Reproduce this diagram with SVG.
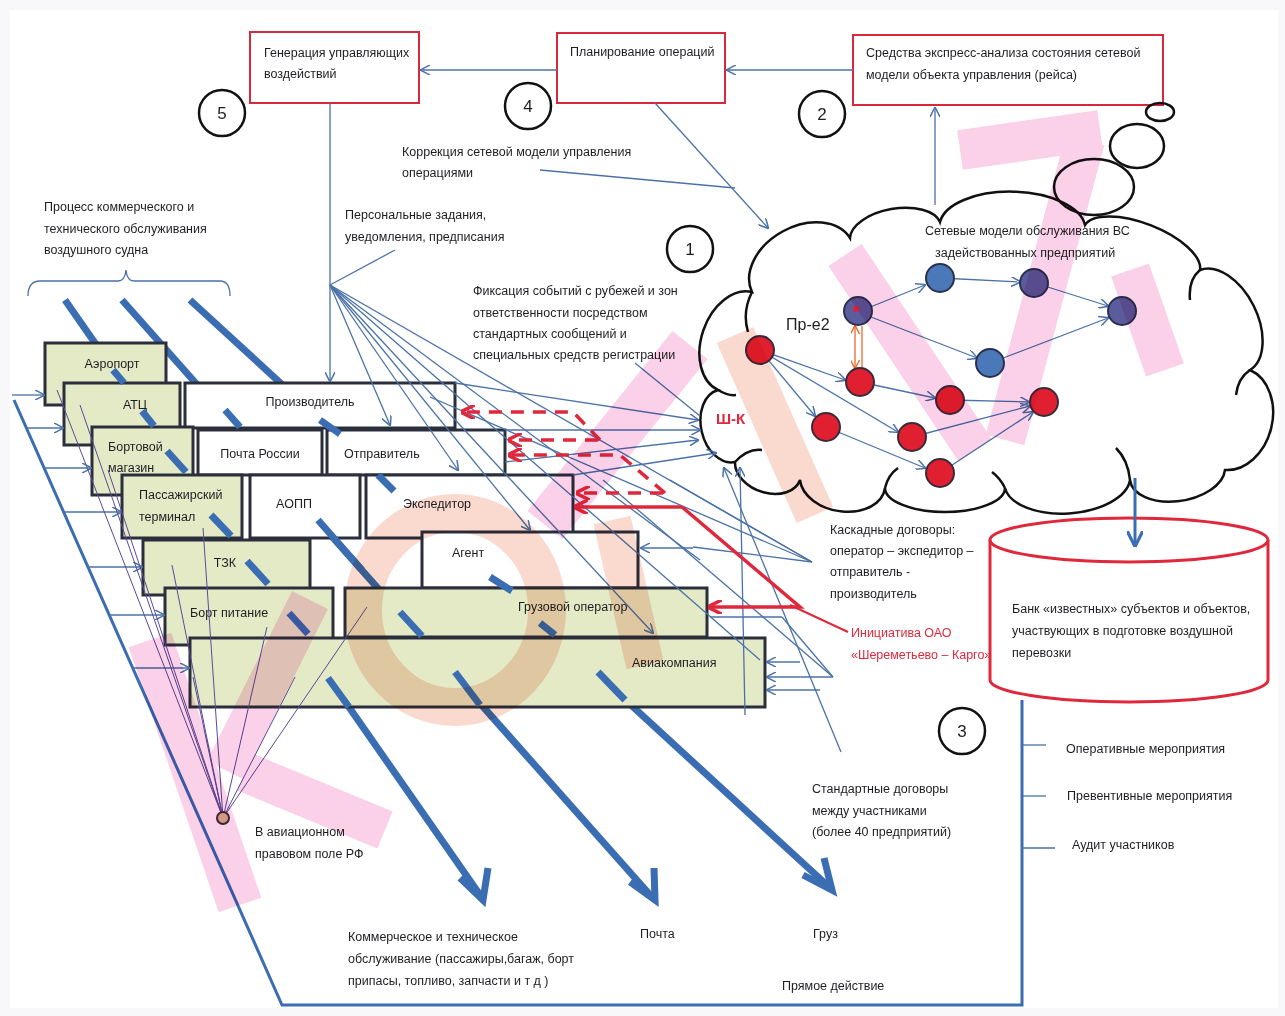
<svg xmlns="http://www.w3.org/2000/svg" width="1285" height="1016" viewBox="0 0 1285 1016">
<defs>
<style>
text{font-family:"Liberation Sans Narrow","Liberation Sans",Arial,sans-serif;font-size:12.5px;fill:#1e1e22}
.t{stroke:#4a72a8;stroke-width:1.3;fill:none}
.tk{stroke:#3b6db2;stroke-width:7;fill:none;stroke-linecap:butt}
.box{stroke:#2b2f3c;stroke-width:3}
.g{fill:#e4eac6}
.w{fill:#ffffff}
.rb{fill:#ffffff;stroke:#d8283c;stroke-width:2}
.num{fill:#fff;stroke:#111;stroke-width:2.5}
.nt{font-size:17px;text-anchor:middle}
.bl{text-anchor:middle}
.red{fill:#e0283c}
.rd{stroke:#e0283c;stroke-width:3.5;fill:none;stroke-dasharray:13 9}
.rs{stroke:#e0283c;stroke-width:3.5;fill:none}
.nr{fill:#e02030;stroke:#3a2a3a;stroke-width:2}
.nb{fill:#4a78b8;stroke:#2a3050;stroke-width:2}
.np{fill:#5a5c9c;stroke:#2a3050;stroke-width:2}
.wp{stroke:#f070b8;fill:none;stroke-linecap:butt}
.ws{stroke:#f08a6a;fill:none;stroke-linecap:butt}
</style>
<marker id="a" viewBox="0 0 10 10" refX="9" refY="5" markerWidth="10" markerHeight="10" markerUnits="userSpaceOnUse" orient="auto"><path d="M0,0 L10,5 L0,10" fill="none" stroke="#4a72a8" stroke-width="1.5"/></marker>
<marker id="ab" viewBox="0 0 10 10" refX="9" refY="5" markerWidth="16" markerHeight="16" markerUnits="userSpaceOnUse" orient="auto"><path d="M0,0 L10,5 L0,10" fill="none" stroke="#3b6db2" stroke-width="2"/></marker>
<marker id="ar" viewBox="0 0 10 10" refX="9" refY="5" markerWidth="14" markerHeight="14" markerUnits="userSpaceOnUse" orient="auto"><path d="M0,0 L10,5 L0,10" fill="none" stroke="#e0283c" stroke-width="2.5"/></marker>
<marker id="ao" viewBox="0 0 10 10" refX="9" refY="5" markerWidth="9" markerHeight="9" markerUnits="userSpaceOnUse" orient="auto-start-reverse"><path d="M0,0 L10,5 L0,10" fill="none" stroke="#e86a30" stroke-width="1.5"/></marker>
</defs>
<rect x="0" y="0" width="1285" height="1016" fill="#f8f8fa"/>
<rect x="10" y="10" width="1268" height="998" fill="#ffffff"/>

<!-- thick process lines (background) -->
<g id="process-lines">
<line class="tk" x1="65" y1="300" x2="480" y2="895"/>
<line class="tk" x1="122" y1="300" x2="651" y2="896"/>
<line class="tk" x1="190" y1="300" x2="828" y2="886"/>
</g>

<!-- frame -->
<g id="frame">
<polyline class="t" points="14,400 282,1005 1022,1005 1022,700" style="stroke-width:3;stroke:#3b6db2"/>
<line class="t" x1="1022" y1="745" x2="1046" y2="745"/>
<line class="t" x1="1022" y1="796" x2="1046" y2="796"/>
<line class="t" x1="1022" y1="848" x2="1055" y2="848"/>
<path class="t" d="M28,296 Q28,281 40,281 L118,281 Q125,281 126,270 Q127,281 134,281 L220,281 Q230,281 230,296"/>
</g>

<!-- boxes -->
<g id="n-aeroport"><rect class="box g" x="45" y="343" width="121" height="62"/><text class="bl" x="112" y="368">Аэропорт</text></g>
<g id="n-atc"><rect class="box g" x="64" y="383" width="116" height="62"/><text class="bl" x="135" y="409">АТЦ</text></g>
<g id="n-proizv"><rect class="box w" x="185" y="383" width="270" height="45"/><text class="bl" x="310" y="406">Производитель</text></g>
<g id="n-bort-mag"><rect class="box g" x="92" y="427" width="101" height="68"/><text x="108" y="451">Бортовой</text><text x="108" y="472">магазин</text></g>
<g id="n-pochta"><rect class="box w" x="198" y="430" width="124" height="45"/><text class="bl" x="260" y="458">Почта России</text></g>
<g id="n-otpr"><rect class="box w" x="327" y="430" width="178" height="45"/><text x="344" y="458">Отправитель</text></g>
<g id="n-pass"><rect class="box g" x="122" y="475" width="120" height="63"/><text x="139" y="499">Пассажирский</text><text x="139" y="521">терминал</text></g>
<g id="n-aopp"><rect class="box w" x="250" y="475" width="110" height="63"/><text class="bl" x="294" y="508">АОПП</text></g>
<g id="n-exped"><rect class="box w" x="366" y="475" width="207" height="63"/><text x="403" y="508">Экспедитор</text></g>
<g id="n-agent"><rect class="box w" x="422" y="532" width="216" height="56"/><text x="452" y="557">Агент</text></g>
<g id="n-tzk"><rect class="box g" x="143" y="540" width="167" height="55"/><text class="bl" x="225" y="567">ТЗК</text></g>
<g id="n-bortpit"><rect class="box g" x="165" y="588" width="168" height="57"/><text x="190" y="617">Борт питание</text></g>
<g id="n-gruz"><rect class="box g" x="345" y="588" width="362" height="49"/><text x="518" y="611">Грузовой оператор</text></g>
<g id="n-avia"><rect class="box g" x="190" y="638" width="575" height="69"/><text x="632" y="667">Авиакомпания</text></g>

<!-- thick segments visible through boxes -->
<g id="process-segments">
<line class="tk" x1="113" y1="370" x2="124" y2="383"/>
<line class="tk" x1="142" y1="411" x2="154" y2="426"/>
<line class="tk" x1="167" y1="451" x2="186" y2="472"/>
<line class="tk" x1="211" y1="515" x2="231" y2="536"/>
<line class="tk" x1="247" y1="561" x2="268" y2="584"/>
<line class="tk" x1="289" y1="613" x2="308" y2="634"/>
<line class="tk" x1="328" y1="678" x2="349" y2="707"/>
<line class="tk" x1="225" y1="410" x2="240" y2="427"/>
<line class="tk" x1="320" y1="420" x2="340" y2="434"/>
<line class="tk" x1="318" y1="520" x2="362" y2="570"/>
<line class="tk" x1="378" y1="475" x2="394" y2="491"/>
<line class="tk" x1="400" y1="612" x2="422" y2="636"/>
<line class="tk" x1="490" y1="577" x2="512" y2="591"/>
<line class="tk" x1="540" y1="623" x2="555" y2="635"/>
<line class="tk" x1="455" y1="672" x2="480" y2="705"/>
<line class="tk" x1="598" y1="672" x2="625" y2="700"/>
</g>

<!-- bottom big arrowheads -->
<g id="process-heads" fill="none" stroke="#3b6db2" stroke-width="7" stroke-linejoin="miter">
<polyline points="460,878 483,900 488,868"/>
<polyline points="630,882 655,900 654,868"/>
<polyline points="803,875 832,890 824,858"/>
</g>

<!-- top boxes -->
<g id="n-gen"><rect class="rb" x="250" y="32" width="169" height="71"/><text x="264" y="57">Генерация  управляющих</text><text x="264" y="78">воздействий</text></g>
<g id="n-plan"><rect class="rb" x="557" y="33" width="168" height="70"/><text x="570" y="56">Планирование операций</text></g>
<g id="n-sredstva"><rect class="rb" x="853" y="35" width="310" height="70"/><text x="866" y="57">Средства  экспресс-анализа  состояния  сетевой</text><text x="866" y="79">модели  объекта управления  (рейса)</text></g>

<!-- cloud -->
<g id="n-cloud">
<ellipse cx="1160" cy="112" rx="14" ry="9" fill="none" stroke="#111" stroke-width="2.5"/>
<ellipse cx="1137" cy="146" rx="27" ry="22" fill="none" stroke="#111" stroke-width="2.5"/>
<path d="M718,390 A52,36 -70.9 0 1 752,292 A56,40 -28.9 0 1 850,238 A46,24 -10 0 1 940,222 A73,36 1.2 0 1 1085,225 A62,26 21.4 0 1 1200,270 A56,34 63.4 0 1 1250,370 A52,40 104 0 1 1225,470 A48,28 171 0 1 1130,480 A63,33 176 0 1 1005,488 A60,24 180 0 1 885,488 A43,30 -170 0 1 800,480 A34,24 -160 0 1 735,462 A37,26 -103 0 1 718,390 Z" fill="#fff" stroke="#111" stroke-width="2.5"/>
<ellipse cx="1094" cy="187" rx="40" ry="28" fill="none" stroke="#111" stroke-width="2.5"/>
<path d="M752,292 Q742,312 748,332 M1200,270 Q1188,280 1190,300 M1250,370 Q1238,378 1236,395 M1130,480 Q1128,460 1116,448 M1005,488 Q1000,478 992,472 M885,488 Q888,475 898,468 M735,462 Q748,448 762,450 M718,390 Q728,396 736,395" fill="none" stroke="#111" stroke-width="2.5"/>
<text x="925" y="235">Сетевые модели обслуживания ВС</text>
<text x="935" y="257">задействованных предприятий</text>
<text x="786" y="330" style="font-size:16px">Пр-е2</text>
<text x="716" y="424" style="font-size:15px;font-weight:bold;fill:#e0283c">Ш-К</text>
<g class="t">
<line x1="760" y1="350" x2="845" y2="380" marker-end="url(#a)"/>
<line x1="760" y1="350" x2="815" y2="416" marker-end="url(#a)"/>
<line x1="760" y1="350" x2="898" y2="432" marker-end="url(#a)"/>
<line x1="858" y1="312" x2="925" y2="285" marker-end="url(#a)"/>
<line x1="858" y1="312" x2="977" y2="358" marker-end="url(#a)"/>
<line x1="860" y1="382" x2="935" y2="398" marker-end="url(#a)"/>
<line x1="826" y1="427" x2="925" y2="468" marker-end="url(#a)"/>
<line x1="950" y1="400" x2="1029" y2="402" marker-end="url(#a)"/>
<line x1="912" y1="437" x2="1030" y2="406" marker-end="url(#a)"/>
<line x1="940" y1="473" x2="1033" y2="412" marker-end="url(#a)"/>
<line x1="940" y1="278" x2="1020" y2="282" marker-end="url(#a)"/>
<line x1="1035" y1="283" x2="1108" y2="306" marker-end="url(#a)"/>
<line x1="990" y1="363" x2="1108" y2="318" marker-end="url(#a)"/>
</g>
<line x1="855" y1="326" x2="855" y2="368" stroke="#e86a30" stroke-width="1.3" marker-end="url(#ao)" marker-start="url(#ao)"/>
<line x1="862" y1="326" x2="862" y2="368" stroke="#e86a30" stroke-width="1.3"/>
<circle class="nr" cx="760" cy="350" r="14"/>
<circle class="np" cx="858" cy="311" r="14"/>
<circle cx="856" cy="309" r="3" fill="#e02030"/>
<circle class="nr" cx="860" cy="382" r="14"/>
<circle class="nr" cx="826" cy="427" r="14"/>
<circle class="nr" cx="950" cy="400" r="14"/>
<circle class="nr" cx="912" cy="437" r="14"/>
<circle class="nr" cx="940" cy="473" r="14"/>
<circle class="nr" cx="1044" cy="402" r="14"/>
<circle class="nb" cx="940" cy="278" r="14"/>
<circle class="np" cx="1034" cy="283" r="14"/>
<circle class="np" cx="1122" cy="311" r="14"/>
<circle class="nb" cx="990" cy="363" r="14"/>
</g>

<!-- cylinder -->
<g id="n-bank">
<path d="M990,540 L990,680 A139,22 0 0 0 1268,680 L1268,540" fill="#fff" stroke="#e0283c" stroke-width="3"/>
<ellipse cx="1129" cy="540" rx="139" ry="22" fill="#fff" stroke="#e0283c" stroke-width="3"/>
<text x="1012" y="613">Банк  «известных»  субъектов и объектов,</text>
<text x="1012" y="635">участвующих в подготовке воздушной</text>
<text x="1012" y="657">перевозки</text>
</g>

<!-- numbered circles -->
<g id="n-num5"><circle class="num" cx="222" cy="113" r="23"/><text class="nt" x="222" y="119">5</text></g>
<g id="n-num4"><circle class="num" cx="528" cy="106" r="23"/><text class="nt" x="528" y="112">4</text></g>
<g id="n-num2"><circle class="num" cx="822" cy="114" r="23"/><text class="nt" x="822" y="120">2</text></g>
<g id="n-num1"><circle class="num" cx="690" cy="249" r="23"/><text class="nt" x="690" y="255">1</text></g>
<g id="n-num3"><circle class="num" cx="962" cy="731" r="23"/><text class="nt" x="962" y="737">3</text></g>

<!-- connectors -->
<g id="connectors">
<g class="t">
<line x1="557" y1="70" x2="421" y2="70" marker-end="url(#a)"/>
<line x1="853" y1="70" x2="727" y2="70" marker-end="url(#a)"/>
<line x1="935" y1="205" x2="935" y2="108" marker-end="url(#a)"/>
<line x1="655" y1="103" x2="768" y2="228" marker-end="url(#a)"/>
<line x1="540" y1="170" x2="735" y2="188"/>
<line x1="330" y1="103" x2="330" y2="381" marker-end="url(#a)"/>
<line x1="330" y1="285" x2="395" y2="250"/>
<line x1="330" y1="285" x2="390" y2="425" marker-end="url(#a)"/>
<line x1="330" y1="285" x2="458" y2="470" marker-end="url(#a)"/>
<line x1="330" y1="285" x2="530" y2="530" marker-end="url(#a)"/>
<line x1="330" y1="285" x2="653" y2="633" marker-end="url(#a)"/>
<line x1="330" y1="285" x2="760" y2="660"/>
<line x1="330" y1="285" x2="812" y2="562"/>
<line x1="330" y1="285" x2="700" y2="560"/>
<line x1="455" y1="383" x2="698" y2="420" marker-end="url(#a)"/>
<line x1="505" y1="430" x2="700" y2="430" marker-end="url(#a)"/>
<line x1="505" y1="462" x2="698" y2="440" marker-end="url(#a)"/>
<line x1="573" y1="475" x2="716" y2="453" marker-end="url(#a)"/>
<line x1="745" y1="715" x2="740" y2="468" marker-end="url(#a)"/>
<line x1="841" y1="752" x2="724" y2="468" marker-end="url(#a)"/>
<line x1="635" y1="363" x2="700" y2="416"/>
<line x1="812" y1="562" x2="430" y2="397"/>
<line x1="812" y1="562" x2="670" y2="480"/>
<line x1="812" y1="562" x2="693" y2="547"/>
<line x1="693" y1="548" x2="641" y2="548" marker-end="url(#a)"/>
<line x1="833" y1="677" x2="603" y2="480"/>
<line x1="833" y1="677" x2="782" y2="617"/>
<line x1="782" y1="617" x2="710" y2="617"/>
<line x1="800" y1="662" x2="767" y2="662" marker-end="url(#a)"/>
<line x1="833" y1="677" x2="767" y2="677" marker-end="url(#a)"/>
<line x1="820" y1="690" x2="767" y2="690" marker-end="url(#a)"/>
<line x1="12" y1="395" x2="44" y2="395" marker-end="url(#a)"/>
<line x1="26" y1="428" x2="63" y2="428" marker-end="url(#a)"/>
<line x1="44" y1="468" x2="91" y2="468" marker-end="url(#a)"/>
<line x1="64" y1="512" x2="121" y2="512" marker-end="url(#a)"/>
<line x1="88" y1="567" x2="142" y2="567" marker-end="url(#a)"/>
<line x1="109" y1="615" x2="164" y2="615" marker-end="url(#a)"/>
<line x1="133" y1="668" x2="189" y2="668" marker-end="url(#a)"/>
</g>
<g stroke="#5a4a9a" stroke-width="1" fill="none">
<line x1="223" y1="818" x2="57" y2="390"/>
<line x1="223" y1="818" x2="80" y2="405"/>
<line x1="223" y1="818" x2="108" y2="470"/>
<line x1="223" y1="818" x2="172" y2="565"/>
<line x1="223" y1="818" x2="203" y2="528"/>
<line x1="223" y1="818" x2="193" y2="677"/>
<line x1="223" y1="818" x2="267" y2="627"/>
<line x1="223" y1="818" x2="295" y2="677"/>
<line x1="223" y1="818" x2="367" y2="607"/>
</g>
<circle cx="223" cy="818" r="6" fill="#d8b890" stroke="#3a2a3a" stroke-width="2"/>
<line class="t" x1="1135" y1="478" x2="1135" y2="545" style="stroke-width:3;stroke:#3b6db2" marker-end="url(#ab)"/>
<polyline class="rd" points="600,440 573,412 462,412" marker-end="url(#ar)"/>
<line class="rd" x1="598" y1="440" x2="509" y2="440" marker-end="url(#ar)"/>
<polyline class="rd" points="665,493 620,455 509,455" marker-end="url(#ar)"/>
<line class="rd" x1="663" y1="493" x2="577" y2="493" marker-end="url(#ar)"/>
<polyline class="rs" points="682,507 575,507" marker-end="url(#ar)"/>
<polyline class="rs" points="682,507 800,607 709,607" marker-end="url(#ar)"/>
<line x1="790" y1="605" x2="848" y2="632" stroke="#e0283c" stroke-width="2"/>
</g>

<!-- labels -->
<g id="labels">
<text x="402" y="156">Коррекция сетевой модели  управления</text>
<text x="402" y="177">операциями</text>
<text x="345" y="219">Персональные задания,</text>
<text x="345" y="241">уведомления, предписания</text>
<text x="44" y="211">Процесс коммерческого и</text>
<text x="44" y="233">технического обслуживания</text>
<text x="44" y="254">воздушного судна</text>
<text x="473" y="295">Фиксация  событий  с  рубежей и зон</text>
<text x="473" y="317">ответственности  посредством</text>
<text x="473" y="338">стандартных сообщений  и</text>
<text x="473" y="359">специальных  средств  регистрации</text>
<text x="830" y="534">Каскадные договоры:</text>
<text x="830" y="555">оператор – экспедитор –</text>
<text x="830" y="576">отправитель -</text>
<text x="830" y="598">производитель</text>
<text class="red" x="851" y="637">Инициатива ОАО</text>
<text class="red" x="851" y="659">«Шереметьево – Карго»</text>
<text x="1066" y="753">Оперативные мероприятия</text>
<text x="1067" y="800">Превентивные  мероприятия</text>
<text x="1072" y="849">Аудит участников</text>
<text x="812" y="793">Стандартные договоры</text>
<text x="812" y="815">между участниками</text>
<text x="812" y="836">(более 40 предприятий)</text>
<text x="255" y="836">В авиационном</text>
<text x="255" y="858">правовом поле РФ</text>
<text x="348" y="941">Коммерческое и техническое</text>
<text x="348" y="963">обслуживание (пассажиры,багаж, борт</text>
<text x="348" y="985">припасы, топливо, запчасти и  т д )</text>
<text x="640" y="938">Почта</text>
<text x="813" y="938">Груз</text>
<text x="782" y="990">Прямое  действие</text>
</g>

<!-- translucent stamp bands -->
<g id="stamp" opacity="0.32" style="mix-blend-mode:multiply">
<line class="wp" x1="150" y1="640" x2="240" y2="905" stroke-width="45"/>
<line class="wp" x1="225" y1="770" x2="310" y2="600" stroke-width="40"/>
<line class="wp" x1="245" y1="772" x2="385" y2="830" stroke-width="40"/>
<ellipse class="ws" cx="455" cy="610" rx="92" ry="97" stroke-width="38"/>
<line class="wp" x1="545" y1="525" x2="690" y2="345" stroke-width="45"/>
<line class="ws" x1="735" y1="335" x2="815" y2="515" stroke-width="40"/>
<line class="ws" x1="612" y1="520" x2="645" y2="665" stroke-width="38"/>
<line class="wp" x1="845" y1="255" x2="975" y2="450" stroke-width="40"/>
<line class="wp" x1="960" y1="150" x2="1100" y2="130" stroke-width="40"/>
<line class="wp" x1="1085" y1="140" x2="1005" y2="440" stroke-width="40"/>
<line class="wp" x1="1130" y1="270" x2="1165" y2="370" stroke-width="40"/>
</g>
</svg>
